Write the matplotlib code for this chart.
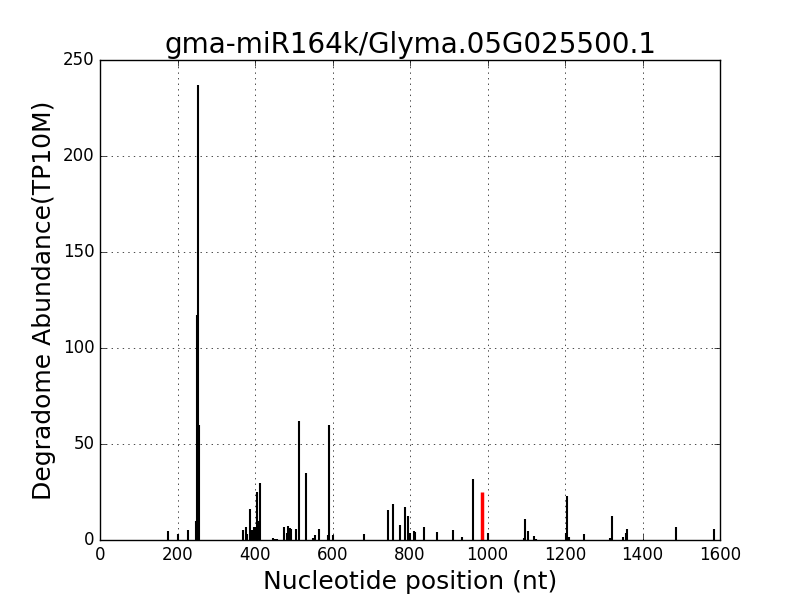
import matplotlib
matplotlib.use('Agg')
import matplotlib.pyplot as plt

# degradome reads along the transcript (position, abundance TP10M)
positions = [176, 200, 228, 247, 250, 253, 255, 370, 376, 380, 387, 392, 394,
             398, 402, 404, 408, 412, 447, 452, 458, 476, 482, 486, 490, 494,
             506, 514, 532, 549, 556, 566, 588, 592, 602, 680, 742, 757, 773,
             786, 796, 800, 811, 814, 837, 869, 912, 933, 962, 1002, 1093,
             1097, 1105, 1120, 1125, 1202, 1206, 1211, 1250, 1316, 1320, 1350,
             1357, 1361, 1487, 1585]
abundance = [4.7, 3, 5, 10, 117, 237, 60, 5, 6.8, 3, 16, 5, 2.6,
             6.8, 6.6, 25, 10, 29.5, 1, 0.5, 0.5, 7, 3.5, 7.3, 6, 5.5,
             5.5, 62, 35, 1, 2.5, 5.5, 2.6, 60, 2.6, 3, 15.6, 19, 7.8,
             17, 12.7, 3.5, 4.7, 4, 7, 4, 5, 1.4, 32, 3.5, 1,
             10.8, 4.7, 2, 0.5, 3.5, 23, 1.7, 3, 0.9, 12.5, 1.7,
             3.8, 5.5, 6.6, 5.9]

# cleavage site of the miRNA
site_pos = [985]
site_val = [25]

plt.style.use('classic')
fig = plt.figure(figsize=(8, 6), dpi=100, facecolor='white')
ax = fig.add_subplot(111)

ax.vlines(positions, 0, abundance, color='k', linewidth=1.5)
ax.vlines(site_pos, 0, site_val, color='r', linewidth=2.5)

ax.set_xlim(0, 1600)
ax.set_ylim(0, 250)
ax.grid(True)
ax.set_title('gma-miR164k/Glyma.05G025500.1', fontsize=20)
ax.set_xlabel('Nucleotide position (nt)', fontsize=18)
ax.set_ylabel('Degradome Abundance(TP10M)', fontsize=18)
ax.tick_params(labelsize=12)

fig.savefig('out.png', facecolor='white')
